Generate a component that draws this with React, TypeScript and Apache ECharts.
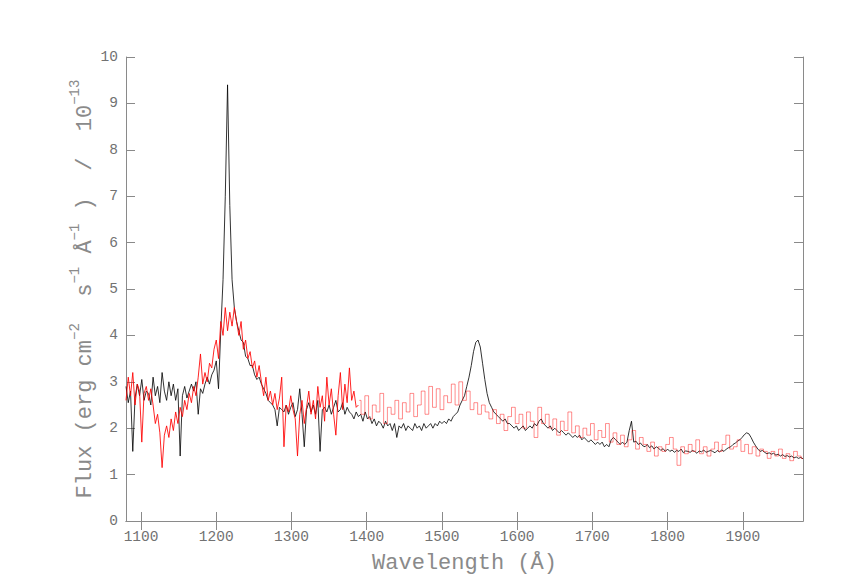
import React, { useEffect, useRef } from "react";
import * as echarts from "echarts";

// Wavelength grids (Å)
const BLACK_START = 1080;
const BLACK_STEP = 3;
const RED1_START = 1080;
const RED1_STEP = 3;
const RED2_START = 1390;
const RED2_STEP = 5;

// Black spectrum flux (1e-13 erg cm^-2 s^-1 Å^-1), 1080–1980 Å every 3 Å
const blackFlux: number[] = [
  2.9, 2.55, 2.8, 1.5, 2.65, 2.95, 2.7, 3.05, 2.6, 2.8,
  2.75, 2.5, 3.1, 2.7, 2.9, 2.55, 3.2, 2.8, 2.6, 3.0,
  2.7, 2.95, 2.6, 2.85, 1.4, 2.7, 2.9, 2.65, 2.8, 2.95,
  2.8, 3.0, 2.3, 2.85, 2.75, 2.95, 3.1, 2.95, 3.15, 3.25,
  3.45, 2.85, 4.1, 5.2, 7.0, 9.4, 6.8, 5.2, 4.6, 4.3,
  4.1, 3.9, 3.85, 3.55, 3.5, 3.35, 3.35, 3.15, 3.05, 3.1,
  2.95, 2.85, 2.75, 2.6, 2.55, 2.5, 2.4, 2.05, 2.45, 2.4,
  2.35, 2.5, 2.3, 2.45, 2.55, 2.25, 2.4, 2.85, 2.3, 1.6,
  2.4, 2.55, 2.35, 2.5, 2.3, 2.6, 1.5, 2.4, 2.45, 2.35,
  2.5, 2.3, 2.45, 2.6, 2.35, 2.4, 2.55, 2.3, 2.45, 2.35,
  2.3, 2.2, 2.35, 2.25, 2.3, 2.15, 2.35, 2.2, 2.25, 2.1,
  2.2, 2.05, 2.15, 2.1, 2.0, 2.15, 2.05, 2.1, 1.95, 2.1,
  1.8, 2.05, 2.0, 2.1, 1.95, 2.05, 2.0, 1.95, 2.1, 2.0,
  2.05, 1.95, 2.1, 2.0, 2.05, 2.1, 2.0, 2.1, 2.05, 2.15,
  2.1, 2.15, 2.1, 2.2, 2.15, 2.25, 2.3, 2.35, 2.5, 2.6,
  2.7, 2.9, 3.1, 3.35, 3.65, 3.85, 3.9, 3.75, 3.4, 3.05,
  2.75, 2.55, 2.45, 2.35, 2.3, 2.25, 2.2, 2.15, 2.2, 2.1,
  2.1, 2.05, 2.0, 2.05, 1.95, 2.0, 2.05, 1.95, 2.0, 2.05,
  2.0, 2.1, 2.05, 2.15, 2.2, 2.1, 2.05, 2.0, 2.05, 1.95,
  2.0, 1.95, 1.9, 1.95, 1.9, 1.85, 1.9, 1.85, 1.8, 1.85,
  1.8, 1.85, 1.75, 1.8, 1.75, 1.7, 1.75, 1.7, 1.65, 1.7,
  1.65, 1.7, 1.6, 1.65, 1.6, 1.75, 1.8, 1.75, 1.7, 1.65,
  1.7, 1.65, 1.7, 1.95, 2.15, 1.7, 1.72, 1.65, 1.68, 1.62,
  1.6, 1.65, 1.58, 1.62, 1.55, 1.6, 1.57, 1.52, 1.56, 1.5,
  1.55, 1.5, 1.53, 1.48, 1.52, 1.5, 1.55, 1.47, 1.51, 1.5,
  1.48, 1.52, 1.5, 1.46, 1.51, 1.49, 1.53, 1.48, 1.5, 1.52,
  1.5, 1.47, 1.52, 1.49, 1.53, 1.5, 1.55, 1.58, 1.6, 1.65,
  1.68, 1.72, 1.75, 1.8, 1.86, 1.9, 1.88, 1.8, 1.7, 1.62,
  1.55, 1.5, 1.52, 1.48, 1.45, 1.47, 1.44, 1.46, 1.42, 1.44,
  1.4, 1.43, 1.39, 1.41, 1.38, 1.4, 1.36, 1.38, 1.35, 1.37,
  1.34,
];

// Red spectrum, short-wavelength part, 1080–1389 Å every 3 Å
const red1Flux: number[] = [
  2.6, 3.1, 2.7, 3.2, 2.5, 2.95, 2.8, 1.7, 2.75, 2.9,
  2.6, 2.85, 2.5, 2.1, 2.3, 1.9, 1.15, 1.85, 2.05, 1.8,
  2.2, 1.95, 2.35, 2.1, 2.45, 2.25, 2.6, 2.4, 2.75, 2.55,
  2.9, 2.7, 3.1, 3.6, 2.95, 3.2, 3.0, 3.4, 3.3, 3.7,
  3.9, 3.5, 4.3, 4.0, 4.6, 4.1, 4.5, 4.2, 4.6, 4.3,
  4.0, 4.3, 3.7, 3.9, 3.5, 3.65, 3.3, 3.45, 3.1, 3.35,
  3.0, 2.7, 3.1, 2.6, 2.8, 2.5, 2.75, 2.4, 2.65, 3.1,
  1.6, 2.5, 2.35, 2.7, 2.4, 2.2, 1.4, 2.3, 2.6, 2.1,
  2.45, 2.8, 2.3, 2.6, 2.2, 2.9, 2.45, 2.7, 2.15, 3.1,
  2.5, 2.85, 2.3, 1.85, 2.7, 3.2, 2.4, 2.95, 2.55, 3.3,
  2.6, 2.8, 2.45, 2.5,
];

// Red spectrum, long-wavelength part, 1390–1980 Å every 5 Å
const red2Flux: number[] = [
  2.6, 2.3, 2.7, 2.2, 2.5, 2.35, 2.75, 2.1, 2.45, 2.3,
  2.6, 2.2, 2.55, 2.35, 2.75, 2.25, 2.5, 2.8, 2.3, 2.9,
  2.45, 2.85, 2.4, 2.7, 2.55, 2.95, 2.5, 3.0, 2.6, 2.8,
  2.4, 2.55, 2.3, 2.5, 2.35, 2.2, 2.4, 2.1, 2.3, 1.95,
  2.25, 2.45, 2.1, 2.3, 2.0, 2.35, 2.15, 1.8, 2.45, 2.1,
  2.3, 2.0, 2.2, 1.85, 2.15, 1.95, 2.35, 1.9, 2.05, 1.8,
  2.0, 1.85, 2.1, 1.75, 1.95, 1.8, 2.1, 1.7, 1.9, 1.65,
  1.85, 1.6, 1.75, 1.95, 1.55, 1.8, 1.65, 1.5, 1.7, 1.4,
  1.6, 1.5, 1.65, 1.8, 1.55, 1.2, 1.6, 1.45, 1.65, 1.5,
  1.75, 1.45, 1.6, 1.4, 1.55, 1.7, 1.5, 1.65, 1.85, 1.55,
  1.6, 1.75, 1.5, 1.65, 1.45, 1.6, 1.4, 1.55, 1.5, 1.35,
  1.5, 1.4, 1.55, 1.35, 1.45, 1.3, 1.5, 1.4, 1.35,
];

const xTickValues: number[] = [1100, 1200, 1300, 1400, 1500, 1600, 1700, 1800, 1900];
const X_MIN = 1080;
const X_MAX = 1980;
const Y_MIN = 0;
const Y_MAX = 10;

const toPairs = (start: number, step: number, vals: number[]) =>
  vals.map((v, i) => [start + i * step, v]);

const AXIS_COLOR = "#8a8a8a";
const LABEL_COLOR = "#727272";
const FONT = "'Liberation Mono', 'DejaVu Sans Mono', monospace";

export default function App() {
  const ref = useRef<HTMLDivElement>(null);

  useEffect(() => {
    if (!ref.current) return;
    const chart = echarts.init(ref.current, undefined, { renderer: "svg" });

    const tickStyle = { show: true, inside: true, length: 9, lineStyle: { color: AXIS_COLOR, width: 1 } };
    const lineStyle = { show: true, lineStyle: { color: AXIS_COLOR, width: 1 } };

    const nameMain = { fontFamily: FONT, fontSize: 22, color: AXIS_COLOR, lineHeight: 34, verticalAlign: "middle" };
    const nameSup = { fontFamily: FONT, fontSize: 14, color: AXIS_COLOR, lineHeight: 12, verticalAlign: "top" };

    chart.setOption({
      animation: false,
      backgroundColor: "#ffffff",
      grid: { left: 126, right: 43, top: 57, bottom: 60, containLabel: false },
      xAxis: [
        {
          type: "value",
          min: X_MIN,
          max: X_MAX,
          position: "bottom",
          axisLine: lineStyle,
          axisTick: { ...tickStyle, customValues: xTickValues },
          axisLabel: {
            customValues: xTickValues,
            formatter: (v: number) => String(v),
            color: LABEL_COLOR,
            fontFamily: FONT,
            fontSize: 14.5,
            margin: 8,
          },
          splitLine: { show: false },
          name: "Wavelength (Å)",
          nameLocation: "middle",
          nameGap: 31,
          nameTextStyle: { color: AXIS_COLOR, fontFamily: FONT, fontSize: 22 },
        },
        {
          type: "value",
          min: X_MIN,
          max: X_MAX,
          position: "top",
          axisLine: lineStyle,
          axisTick: { ...tickStyle, customValues: xTickValues },
          axisLabel: { show: false },
          splitLine: { show: false },
        },
      ],
      yAxis: [
        {
          type: "value",
          min: Y_MIN,
          max: Y_MAX,
          interval: 1,
          position: "left",
          axisLine: lineStyle,
          axisTick: tickStyle,
          axisLabel: { color: LABEL_COLOR, fontFamily: FONT, fontSize: 14.5, margin: 8 },
          splitLine: { show: false },
          name: "{n|Flux (erg cm}{s|−2}{n|  s}{s|−1}{n| Å}{s|−1}{n| )  /  10}{s|−13}",
          nameLocation: "middle",
          nameGap: 24,
          nameMoveOverlap: false,
          nameTextStyle: { color: AXIS_COLOR, fontFamily: FONT, fontSize: 22, rich: { n: nameMain, s: nameSup } },
        },
        {
          type: "value",
          min: Y_MIN,
          max: Y_MAX,
          interval: 1,
          position: "right",
          axisLine: lineStyle,
          axisTick: tickStyle,
          axisLabel: { show: false },
          splitLine: { show: false },
        },
      ],
      series: [
        {
          type: "line",
          name: "black",
          data: toPairs(BLACK_START, BLACK_STEP, blackFlux),
          showSymbol: false,
          symbol: "none",
          lineStyle: { color: "#000000", width: 1, opacity: 0.8 },
          z: 2,
        },
        {
          type: "line",
          name: "red1",
          data: toPairs(RED1_START, RED1_STEP, red1Flux),
          showSymbol: false,
          symbol: "none",
          lineStyle: { color: "#ff0000", width: 1, opacity: 0.85 },
          z: 3,
        },
        {
          type: "line",
          name: "red2",
          data: toPairs(RED2_START, RED2_STEP, red2Flux),
          step: "middle",
          showSymbol: false,
          symbol: "none",
          lineStyle: { color: "#ff0000", width: 1, opacity: 0.45 },
          z: 3,
        },
      ],
    });

    return () => chart.dispose();
  }, []);

  return (
    <div
      ref={ref}
      style={{ position: "fixed", left: 0, top: 0, width: 846, height: 581, background: "#fff" }}
    />
  );
}
